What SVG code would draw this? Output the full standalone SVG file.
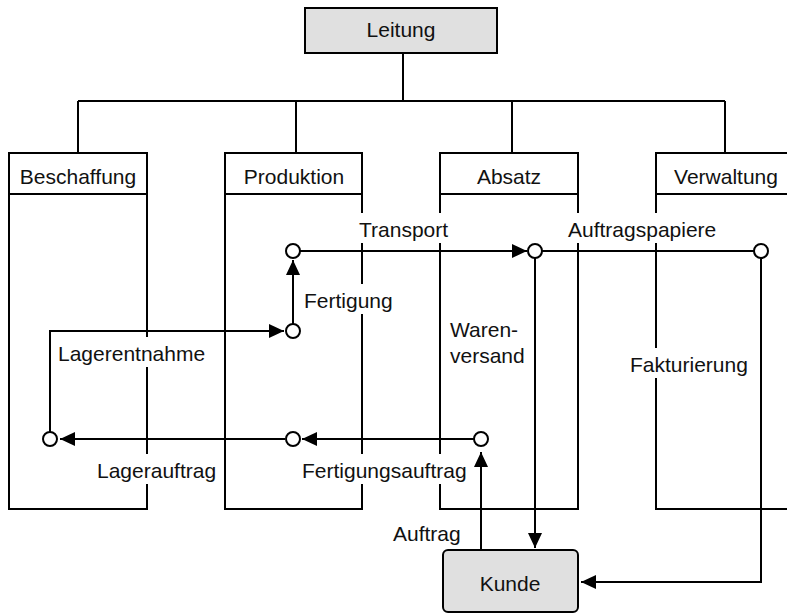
<svg xmlns="http://www.w3.org/2000/svg" width="787" height="614" viewBox="0 0 787 614">
  <style>
    .box { fill: #ffffff; stroke: #000; stroke-width: 2; }
    .head { fill: #e0e0e0; stroke: #000; stroke-width: 2; }
    .line { fill: none; stroke: #000; stroke-width: 2; }
    .flow { fill: none; stroke: #000; stroke-width: 2; }
    .arrow { marker-end: url(#arr); }
    .node { fill: #fff; stroke: #000; stroke-width: 2; }
    .bg { fill: #fff; }
    text { font-family: "Liberation Sans", Arial, Helvetica, sans-serif; font-size: 21px; fill: #111; }
    .c { text-anchor: middle; }
  </style>
  <defs>
    <marker id="arr" markerWidth="16" markerHeight="14" refX="15" refY="7" orient="auto" markerUnits="userSpaceOnUse">
      <path d="M0,0 L15,7 L0,14 z" fill="#000"/>
    </marker>
  </defs>

  <rect width="787" height="614" fill="#fff"/>

  <!-- organisation tree -->
  <g id="tree" class="line">
    <path d="M403,53 V101 M78,101 H725 M78,101 V153 M296,101 V153 M512,101 V153 M725,101 V153"/>
  </g>

  <g id="leitung">
    <rect class="head" x="305" y="8" width="192" height="45"/>
    <text class="c" x="401" y="37">Leitung</text>
  </g>

  <g id="beschaffung">
    <rect class="box" x="9" y="153" width="138" height="356"/>
    <line class="line" x1="9" y1="194" x2="147" y2="194"/>
    <text class="c" x="78" y="184">Beschaffung</text>
  </g>

  <g id="produktion">
    <rect class="box" x="225" y="153" width="137" height="356"/>
    <line class="line" x1="225" y1="194" x2="362" y2="194"/>
    <text class="c" x="294" y="184">Produktion</text>
  </g>

  <g id="absatz">
    <rect class="box" x="440" y="153" width="138" height="356"/>
    <line class="line" x1="440" y1="194" x2="578" y2="194"/>
    <text class="c" x="509" y="184">Absatz</text>
  </g>

  <g id="verwaltung">
    <rect class="box" x="656" y="153" width="140" height="356"/>
    <line class="line" x1="656" y1="194" x2="796" y2="194"/>
    <text class="c" x="726" y="184">Verwaltung</text>
  </g>

  <!-- flow labels, each on a white patch that interrupts the column borders -->
  <g id="labels">
    <rect class="bg" x="355" y="213" width="96" height="30"/>
    <text x="359" y="237">Transport</text>
    <rect class="bg" x="564" y="213" width="158" height="30"/>
    <text x="568" y="237">Auftragspapiere</text>
    <rect class="bg" x="300" y="284" width="96" height="30"/>
    <text x="304" y="308">Fertigung</text>
    <rect class="bg" x="54" y="337" width="158" height="30"/>
    <text x="58" y="361">Lagerentnahme</text>
    <text x="450" y="337">Waren-</text>
    <text x="450" y="363">versand</text>
    <rect class="bg" x="626" y="348" width="120" height="30"/>
    <text x="630" y="372">Fakturierung</text>
    <rect class="bg" x="93" y="454" width="128" height="30"/>
    <text x="97" y="478">Lagerauftrag</text>
    <rect class="bg" x="298" y="454" width="174" height="30"/>
    <text x="302" y="478">Fertigungsauftrag</text>
    <text x="393" y="541">Auftrag</text>
  </g>

  <g id="kunde">
    <rect class="head" x="443" y="550" width="135" height="62" rx="5"/>
    <text class="c" x="510" y="591">Kunde</text>
  </g>

  <!-- connectors -->
  <g id="connectors" class="flow">
    <path class="arrow" d="M300,251 H527"/>
    <path d="M542,251 H754"/>
    <path class="arrow" d="M293,324 V260"/>
    <path class="arrow" d="M50,432 V331 H284"/>
    <path class="arrow" d="M535,258 V548"/>
    <path class="arrow" d="M761,258 V582 H581"/>
    <path class="arrow" d="M474,439 H302"/>
    <path class="arrow" d="M285,439 H60"/>
    <path class="arrow" d="M481,550 V452"/>
  </g>

  <!-- event nodes -->
  <g id="events">
    <circle id="e-transport" class="node" cx="293" cy="251" r="7"/>
    <circle id="e-fertigung" class="node" cx="293" cy="331" r="7"/>
    <circle id="e-absatz" class="node" cx="535" cy="251" r="7"/>
    <circle id="e-verwaltung" class="node" cx="761" cy="251" r="7"/>
    <circle id="e-lager" class="node" cx="50" cy="439" r="7"/>
    <circle id="e-produktion" class="node" cx="293" cy="439" r="7"/>
    <circle id="e-auftrag" class="node" cx="481" cy="439" r="7"/>
  </g>
</svg>
